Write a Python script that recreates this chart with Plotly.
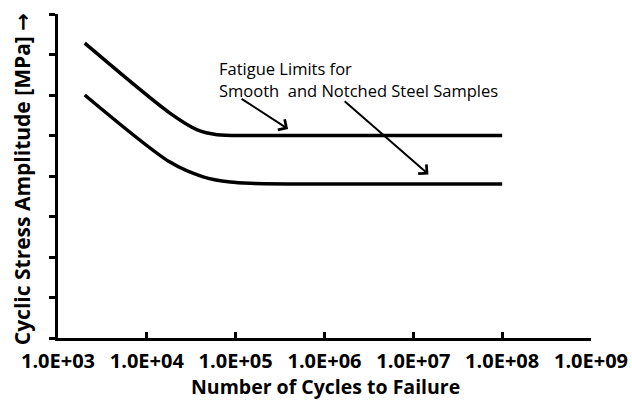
import plotly.graph_objects as go

# Data
cycles_smooth = [2000, 18000, 37000, 62000, 145000, 1e8]
stress_smooth = [728, 556, 514, 502, 500, 500]
cycles_notched = [2000, 18000, 43000, 87000, 145000, 1e8]
stress_notched = [600, 435, 398, 385, 382, 380]

x_tickvals = [1e3, 1e4, 1e5, 1e6, 1e7, 1e8, 1e9]
x_ticktext = ["1.0E+03", "1.0E+04", "1.0E+05", "1.0E+06", "1.0E+07", "1.0E+08", "1.0E+09"]

annotation_lines = ["Fatigue Limits for", "Smooth  and Notched Steel Samples"]
# arrows: (tail logN, tail stress, head logN, head stress)
arrows = [(5.05, 593, 5.59, 516), (6.21, 588, 7.17, 404)]

FONT = "Open Sans"

fig = go.Figure()
for xs, ys in [(cycles_smooth, stress_smooth), (cycles_notched, stress_notched)]:
    fig.add_trace(go.Scatter(x=xs, y=ys, mode="lines",
                             line=dict(color="black", width=3.5, shape="spline", smoothing=0.8),
                             showlegend=False, hoverinfo="skip"))

fig.update_layout(
    width=632, height=400,
    margin=dict(l=58, r=41, t=14, b=62, autoexpand=False),
    paper_bgcolor="white", plot_bgcolor="white",
    showlegend=False,
    xaxis=dict(type="log", range=[3, 9], tickvals=x_tickvals, ticktext=x_ticktext,
               automargin=False,
               showgrid=False, zeroline=False, showline=True, linecolor="black", linewidth=3,
               ticks="inside", ticklen=6, tickwidth=2.5, tickcolor="black",
               ticklabelstandoff=3,
               tickfont=dict(family=FONT, size=20, color="black", weight="bold")),
    yaxis=dict(range=[0, 800], dtick=100, showticklabels=False, automargin=False,
               showgrid=False, zeroline=False, showline=True, linecolor="black", linewidth=3,
               ticks="outside", ticklen=6, tickwidth=2.5, tickcolor="black"),
)

ann = []
ann.append(dict(text="<b>Number of Cycles to Failure</b>", xref="paper", yref="paper",
                x=0.501, y=0, yshift=-48, showarrow=False, xanchor="center", yanchor="middle",
                font=dict(family=FONT, size=19.5, color="black")))
ann.append(dict(text='<b>Cyclic Stress Amplitude [MPa] <span style="font-family:DejaVu Sans">→</span></b>',
                xref="paper", yref="paper",
                x=0, xshift=-36, y=0.49, showarrow=False, textangle=-90,
                xanchor="center", yanchor="middle",
                font=dict(family=FONT, size=21, color="black")))
ann.append(dict(text=annotation_lines[0], xref="x", yref="y", x=3 + (217 - 58) / 88.8, y=665,
                xanchor="left", yanchor="middle", showarrow=False,
                font=dict(family=FONT, size=16.5, color="black")))
ann.append(dict(text=annotation_lines[1], xref="x", yref="y", x=3 + (217 - 58) / 88.8, y=610,
                xanchor="left", yanchor="middle", showarrow=False,
                font=dict(family=FONT, size=16.5, color="black")))
for tx, ty, hx, hy in arrows:
    ann.append(dict(text="", x=hx, y=hy, ax=tx, ay=ty, xref="x", yref="y", axref="x", ayref="y",
                    showarrow=True, arrowhead=4, arrowsize=1.2, arrowwidth=2, arrowcolor="black",
                    standoff=0, startstandoff=0))
fig.update_layout(annotations=ann)

fig.write_html("out.html")
